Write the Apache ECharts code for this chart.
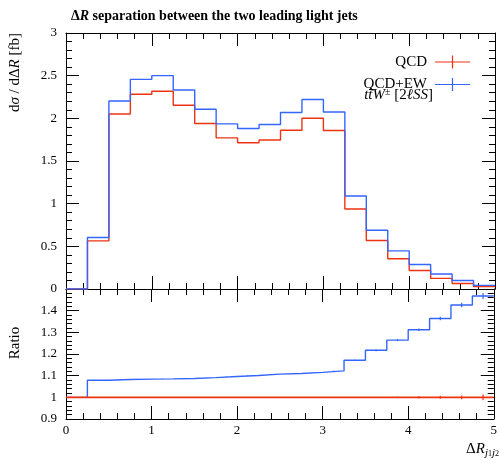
<!DOCTYPE html>
<html>
<head>
<meta charset="utf-8">
<script src="https://cdn.jsdelivr.net/npm/echarts@6/dist/echarts.min.js"></script>
<style>html,body{margin:0;padding:0;background:#fff}#c{width:500px;height:459px}</style>
</head>
<body>
<div id="c"></div>
<script>
// ---- data ----
const binLowEdges = [0, 0.25, 0.5, 0.75, 1.0, 1.25, 1.5, 1.75, 2.0, 2.25, 2.5, 2.75, 3.0, 3.25, 3.5, 3.75, 4.0, 4.25, 4.5, 4.75];
const binUpperEdge = 5;
const qcd   = [0, 0.564, 2.051, 2.282, 2.317, 2.153, 1.939, 1.771, 1.713, 1.746, 1.861, 2.001, 1.857, 0.938, 0.568, 0.354, 0.217, 0.124, 0.065, 0.030];
const qcdEw = [0, 0.603, 2.203, 2.457, 2.500, 2.332, 2.106, 1.935, 1.881, 1.927, 2.068, 2.220, 2.075, 1.090, 0.689, 0.447, 0.287, 0.175, 0.100, 0.042];
const ratioQcd   = [1, 1, 1, 1, 1, 1, 1, 1, 1, 1, 1, 1, 1, 1, 1, 1, 1, 1, 1, 1];
const ratioQcdEw = [1, 1.079, 1.082, 1.084, 1.085, 1.087, 1.091, 1.096, 1.101, 1.107, 1.110, 1.115, 1.122, 1.171, 1.217, 1.264, 1.312, 1.364, 1.426, 1.468];
const ratioQcdErr   = [0, 0.001, 0.001, 0.001, 0.001, 0.001, 0.001, 0.001, 0.001, 0.001, 0.001, 0.001, 0.001, 0.002, 0.002, 0.003, 0.005, 0.007, 0.009, 0.013];
const ratioQcdEwErr = [0, 0.001, 0.001, 0.001, 0.001, 0.001, 0.001, 0.001, 0.001, 0.001, 0.001, 0.001, 0.002, 0.003, 0.004, 0.005, 0.006, 0.008, 0.010, 0.014];
const xTicks = [0, 1, 2, 3, 4, 5];
const seriesNames = ['QCD', 'QCD+EW'];
const titleText = 'separation between the two leading light jets';

const RED = '#ee3311', BLUE = '#3366ff';
const FONT = 'Liberation Serif';

function stepData(vals) {
  const pts = binLowEdges.map((e, i) => [e, vals[i]]);
  pts.push([binUpperEdge, vals[vals.length - 1]]);
  return pts;
}
function errData(vals, errs) {
  return binLowEdges.map((e, i) => [(e + (binLowEdges[i + 1] !== undefined ? binLowEdges[i + 1] : binUpperEdge)) / 2, vals[i], errs[i]]);
}

function xAx(grid, pos, labels) {
  return {
    type: 'value', gridIndex: grid, position: pos, min: xTicks[0], max: xTicks[xTicks.length - 1], interval: 1,
    axisLine: {show: true, onZero: false, lineStyle: {color: '#000', width: 1}},
    axisTick: {show: true, inside: true, length: 13, lineStyle: {color: '#000', width: 1}},
    minorTick: {show: true, splitNumber: 5, length: 6, lineStyle: {color: '#000', width: 1}},
    splitLine: {show: false}, minorSplitLine: {show: false},
    axisLabel: {show: labels, margin: 5, color: '#000', fontFamily: FONT, fontSize: 13}
  };
}
function yAx(grid, pos, labels, min, max, interval, fmt) {
  return {
    type: 'value', gridIndex: grid, position: pos, min: min, max: max, interval: interval,
    axisLine: {show: true, onZero: false, lineStyle: {color: '#000', width: 1}},
    axisTick: {show: true, inside: true, length: 13, lineStyle: {color: '#000', width: 1}},
    minorTick: {show: true, splitNumber: 5, length: 6, lineStyle: {color: '#000', width: 1}},
    splitLine: {show: false}, minorSplitLine: {show: false},
    axisLabel: {show: labels, margin: 9, color: '#000', fontFamily: FONT, fontSize: 13, formatter: fmt}
  };
}

const chart = echarts.init(document.getElementById('c'), null, {renderer: 'canvas'});

function errSeries(name, color, vals, errs) {
  return {
    name: name, type: 'custom', xAxisIndex: 2, yAxisIndex: 2, z: 5,
    data: errData(vals, errs),
    renderItem: function (params, api) {
      const x = api.value(0), y = api.value(1), e = api.value(2);
      if (!e) return null;
      const p1 = api.coord([x, y - e]), p2 = api.coord([x, y + e]);
      return {type: 'line', shape: {x1: p1[0], y1: p1[1], x2: p2[0], y2: p2[1]},
        style: {stroke: color, lineWidth: 1.2}};
    }
  };
}

chart.setOption({
  animation: false,
  backgroundColor: '#fff',
  title: {
    left: 66, top: 4,
    text: '{n|Δ}{i|R}{n| ' + titleText + '}',
    textStyle: {rich: {
      n: {fontFamily: FONT, fontSize: 14, color: '#000'},
      i: {fontFamily: FONT, fontSize: 14, fontStyle: 'italic', color: '#000'}
    }}
  },
  grid: [
    {left: 66, right: 5, top: 33, height: 256},
    {left: 66, right: 5, top: 289, height: 130}
  ],
  xAxis: [xAx(0, 'bottom', false), xAx(0, 'top', false), xAx(1, 'bottom', true), xAx(1, 'top', false)],
  yAxis: [
    yAx(0, 'left', true, 0, 3, 0.5, v => String(v)),
    yAx(0, 'right', false, 0, 3, 0.5),
    yAx(1, 'left', true, 0.9, 1.5, 0.1, v => (Math.abs(v - 1.5) < 1e-6 ? '' : String(Math.round(v * 10) / 10))),
    yAx(1, 'right', false, 0.9, 1.5, 0.1)
  ],
  legend: {
    data: seriesNames, orient: 'vertical', right: 25, top: 49.5, align: 'right',
    itemWidth: 35, itemHeight: 13, itemGap: 7.5,
    icon: 'path://M0,5.9H35V7.1H0Z M16.9,0H18.1V13H16.9Z',
    textStyle: {fontFamily: FONT, fontSize: 15, color: '#000', padding: [0, 3, 0, 0]},
    selectedMode: false
  },
  graphic: [
    {type: 'text', x: 433, y: 95, style: {
      text: '{i|tt\u0304W}{s|±}{n| [2}{i|ℓSS}{n|]}', align: 'right', verticalAlign: 'middle',
      rich: {
        i: {fontFamily: FONT, fontSize: 15, fontStyle: 'italic', fill: '#000'},
        n: {fontFamily: FONT, fontSize: 15, fill: '#000'},
        s: {fontFamily: FONT, fontSize: 10, fill: '#000', verticalAlign: 'top', padding: [0, 0, 6, 0]}
      }}},
    {type: 'text', x: 15, y: 33, rotation: Math.PI / 2, style: {
      text: '{n|d}{i|σ}{n| / dΔ}{i|R}{n| [fb]}', align: 'right', verticalAlign: 'middle',
      rich: {
        n: {fontFamily: FONT, fontSize: 15, fill: '#000'},
        i: {fontFamily: FONT, fontSize: 15, fontStyle: 'italic', fill: '#000'}
      }}},
    {type: 'text', x: 15, y: 343, rotation: Math.PI / 2, style: {
      text: 'Ratio', align: 'center', verticalAlign: 'middle',
      fontFamily: FONT, fontSize: 15, fill: '#000'}},
    {type: 'text', x: 499, y: 449, style: {
      text: '{n|Δ}{i|R}{s|j}{ss|1}{s|j}{ss|2}', align: 'right', verticalAlign: 'middle',
      rich: {
        n: {fontFamily: FONT, fontSize: 15, fill: '#000'},
        i: {fontFamily: FONT, fontSize: 15, fontStyle: 'italic', fill: '#000'},
        s: {fontFamily: FONT, fontSize: 11, fontStyle: 'italic', fill: '#000', padding: [8, 0, 0, 0]},
        ss: {fontFamily: FONT, fontSize: 8, fill: '#000', padding: [10, 0, 0, 0]}
      }}}
  ],
  series: [
    {name: 'QCD', type: 'line', xAxisIndex: 0, yAxisIndex: 0, step: 'end', showSymbol: false, symbol: 'none',
      data: stepData(qcd), color: RED, lineStyle: {color: RED, width: 1.4}, z: 2},
    {name: 'QCD+EW', type: 'line', xAxisIndex: 0, yAxisIndex: 0, step: 'end', showSymbol: false, symbol: 'none',
      data: stepData(qcdEw), color: BLUE, lineStyle: {color: BLUE, width: 1.4}, z: 3},
    {name: 'QCD+EW ratio', type: 'line', xAxisIndex: 2, yAxisIndex: 2, step: 'end', showSymbol: false, symbol: 'none',
      data: stepData(ratioQcdEw), color: BLUE, lineStyle: {color: BLUE, width: 1.4}, z: 2},
    {name: 'QCD ratio', type: 'line', xAxisIndex: 2, yAxisIndex: 2, step: 'end', showSymbol: false, symbol: 'none',
      data: stepData(ratioQcd), color: RED, lineStyle: {color: RED, width: 1.6}, z: 3},
    errSeries('QCD+EW err', BLUE, ratioQcdEw, ratioQcdEwErr),
    errSeries('QCD err', RED, ratioQcd, ratioQcdErr)
  ]
});
</script>
</body>
</html>
